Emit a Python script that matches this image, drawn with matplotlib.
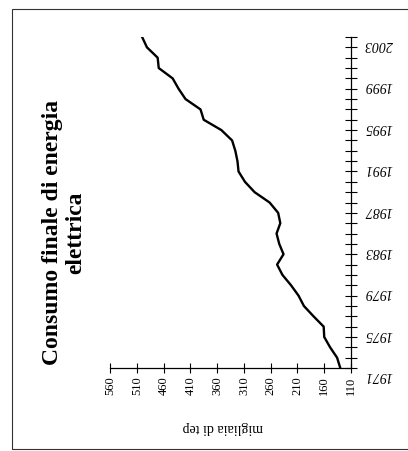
import matplotlib
matplotlib.use("Agg")
import matplotlib.pyplot as plt
from matplotlib.patches import Rectangle

plt.rcParams['font.family'] = ['Liberation Serif', 'DejaVu Serif']

# Consumo finale di energia elettrica (migliaia di tep)
anni = list(range(1971, 2004))
consumo = [130, 136, 149, 160, 161, 180, 198, 208, 222, 238, 248, 236, 244,
           249, 242, 246, 262, 290, 308, 320, 322, 326, 332, 352, 385, 391,
           419, 432, 443, 469, 471, 491, 500]

tick_valori = [110, 160, 210, 260, 310, 360, 410, 460, 510, 560]
tick_anni = list(range(1971, 2004, 4))

fig = plt.figure(figsize=(4.08, 4.52), dpi=100)
ax = fig.add_axes([0.2696, 0.1836, 0.5907, 0.7323])

ax.plot(consumo, anni, color='black', linewidth=1.7, solid_joinstyle='round')

ax.set_xlim(560, 110)
ax.set_ylim(1971, 2003)

for s in ['top', 'left']:
    ax.spines[s].set_visible(False)
ax.spines['bottom'].set_linewidth(0.9)
ax.spines['right'].set_linewidth(0.9)

ax.set_xticks(tick_valori)
ax.set_xticklabels([str(v) for v in tick_valori], rotation=90, fontsize=9)
ax.tick_params(axis='x', direction='inout', length=7, width=0.8, pad=2)

ax.yaxis.tick_right()
ax.set_yticks(tick_anni)
ax.set_yticks(anni, minor=True)
ax.set_yticklabels([str(a) for a in tick_anni], rotation=180, fontsize=10,
                   style='italic', va='top')
ax.tick_params(axis='y', which='both', direction='inout', length=8, width=0.8,
               pad=6)

fig.text(0.545, 0.055, 'migliaia di tep', rotation=180, fontsize=10,
         ha='center', va='center')

fig.text(0.158, 0.485, 'Consumo finale di energia\nelettrica', rotation=90,
         fontsize=17, fontweight='bold', ha='center', va='center',
         multialignment='center', linespacing=1.15)

# bordo della pagina
fig.patches.append(Rectangle((0.03, 0.005), 1.2, 0.972, transform=fig.transFigure,
                             fill=False, edgecolor='#333333', linewidth=0.8))

fig.savefig('out.png', dpi=100)
